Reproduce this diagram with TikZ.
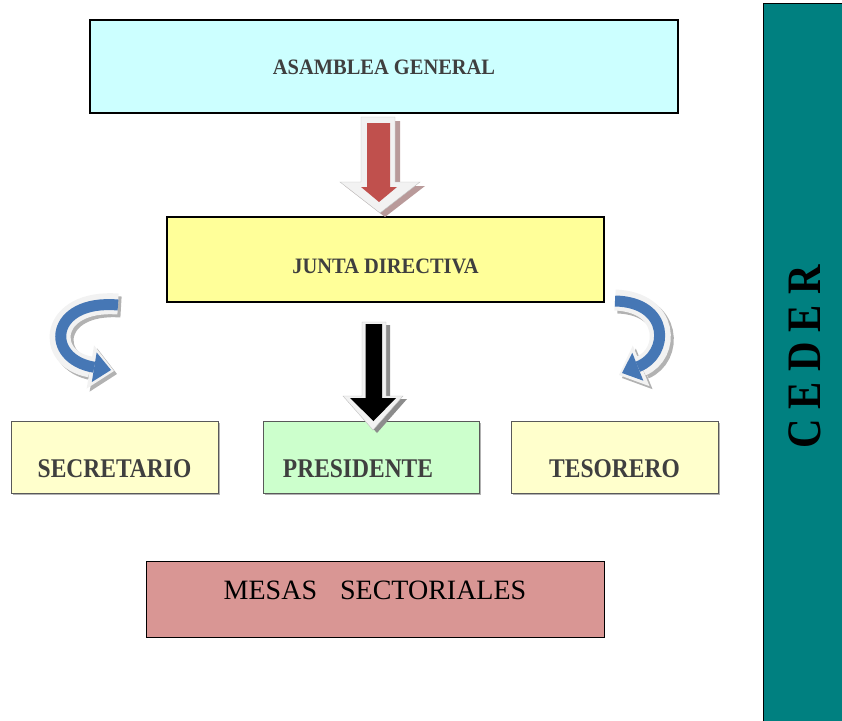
\documentclass[tikz,border=0pt]{standalone}
\usepackage{fontspec}
\setmainfont{Liberation Serif}
\newfontfamily\condserif[FakeStretch=0.87]{Liberation Serif}
\newfontfamily\titleserif[FakeStretch=0.93]{Liberation Serif}
\newfontfamily\barserif[FakeStretch=0.85]{Liberation Serif}
\usetikzlibrary{arrows.meta}
\usetikzlibrary{shadows}
\usetikzlibrary{positioning}

\definecolor{asamcol}{HTML}{CCFFFF}
\definecolor{juntacol}{HTML}{FFFF99}
\definecolor{cargocol}{HTML}{FFFFCC}
\definecolor{presicol}{HTML}{CCFFCC}
\definecolor{mesacol}{HTML}{D99694}
\definecolor{cedercol}{HTML}{008080}
\definecolor{labelgray}{HTML}{3F3F3F}
\definecolor{rojoflecha}{HTML}{C0504D}
\definecolor{azulflecha}{HTML}{4677B5}
\definecolor{bordeflecha}{HTML}{F2F2F2}

\tikzset{
  orgbox/.style={draw=black, line width=1.2pt, inner sep=0pt},
  titlefont/.style={text=labelgray, font=\titleserif\bfseries\fontsize{22}{26}\selectfont},
  cargobox/.style={draw=black!65, line width=1pt, inner sep=0pt,
    minimum height=72, drop shadow={shadow xshift=2pt, shadow yshift=-2pt, fill=black!60},
    text=labelgray, text height=42pt, text depth=2pt,
    font=\condserif\bfseries\fontsize{27}{30}\selectfont},
  curvashadow/.style={line width=21pt, draw=black!30, -{Triangle[width=44pt,length=24pt,line width'=0pt]}},
  curvaout/.style={line width=21pt, draw=bordeflecha, -{Triangle[width=44pt,length=24pt,line width'=0pt]}},
  curvain/.style={line width=11pt, draw=azulflecha, -{Triangle[width=30pt,length=17pt,line width'=0pt]}},
}

\begin{document}
\begin{tikzpicture}[x=1pt,y=-1pt]
\useasboundingbox (0,0) rectangle (842,720);

%Rectangle: asamblea
\node [orgbox, fill=asamcol, minimum width=588, minimum height=93, titlefont,
  text height=16pt, text depth=0pt] (asamblea) at (384,66.5) {ASAMBLEA GENERAL};
%Rectangle: junta
\node [orgbox, fill=juntacol, minimum width=437, minimum height=85, titlefont,
  text height=27pt, text depth=0pt] (junta) at (385.5,259.5) {JUNTA DIRECTIVA};

%Rectangles: cargos
\node [cargobox, fill=cargocol, minimum width=207] (secretario) at (114.5,457) {SECRETARIO};
\node [cargobox, fill=presicol, minimum width=216] (presidente) at (371,457) {PRESIDENTE\hspace*{26pt}};
\node [cargobox, fill=cargocol, minimum width=207] (tesorero) at (614.5,457) {TESORERO};

%Rectangle: mesas
\node [orgbox, line width=1pt, fill=mesacol, minimum width=458, minimum height=76,
  text height=18pt, text depth=18pt,
  font=\fontsize{28}{32}\selectfont] (mesas) at (375,599) {MESAS\hspace{23pt}SECTORIALES};

%Side bar: ceder
\node [orgbox, line width=1pt, fill=cedercol, rotate=90, minimum width=720, minimum height=84,
  font=\barserif\bfseries\fontsize{48}{52}\selectfont] (ceder) at (805,363) {\hspace*{12pt}C E D E R};

%Down arrow: asamblea -> junta
\draw [draw=none, fill={rgb,255:red,185;green,154;blue,154}] (366,121) -- (400,121) -- (400,186) -- (425,186) -- (385,217) -- (345,186) -- (366,186) -- cycle;
\draw [draw=black!25, fill=bordeflecha] (361,117) -- (395,117) -- (395,182) -- (420,182) -- (380,213) -- (340,182) -- (361,182) -- cycle;
\draw [draw=none, fill=rojoflecha] (367,123) -- (390,123) -- (390,187) -- (397,187) -- (379,202) -- (361,187) -- (367,187) -- cycle;

%Down arrow: junta -> presidente
\draw [draw=none, fill=black!45] (366,325) -- (390,325) -- (390,399) -- (407,399) -- (377,433) -- (347,399) -- (366,399) -- cycle;
\draw [draw=black!25, fill=bordeflecha] (362,322) -- (386,322) -- (386,396) -- (403,396) -- (373,430) -- (343,396) -- (362,396) -- cycle;
\draw [draw=none, fill=black] (365.5,324) -- (382,324) -- (382,398) -- (396,398) -- (373.5,421) -- (350,398) -- (365.5,398) -- cycle;

%Curved arrow: left
\draw [curvashadow] (121,307) .. controls (52,302) and (47,362) .. (117,374);
\draw [curvaout] (118,304) .. controls (49,299) and (44,359) .. (114,371);
\draw [curvain] (118,305) .. controls (49,299) and (44,359) .. (111,370);

%Curved arrow: right
\draw [curvashadow] (618,303) .. controls (673,305) and (673,357) .. (622,378);
\draw [curvaout] (615,300) .. controls (670,302) and (670,354) .. (619,375);
\draw [curvain] (615,301) .. controls (670,302) and (670,354) .. (622,373);
\end{tikzpicture}
\end{document}
